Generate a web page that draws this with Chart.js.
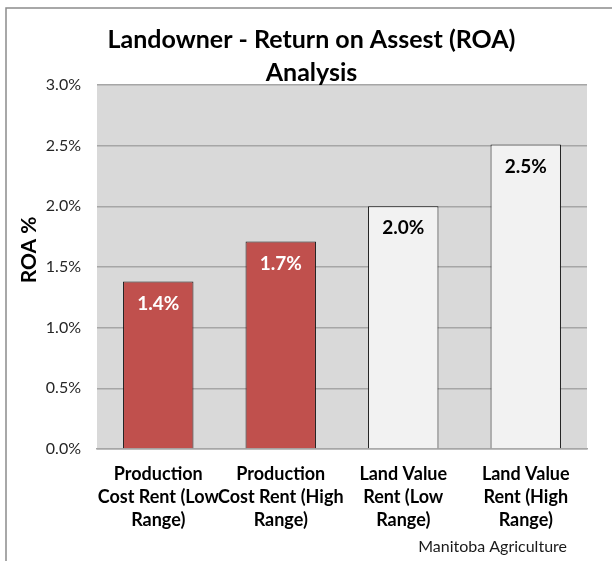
<!DOCTYPE html>
<html><head><meta charset="utf-8">
<script src="https://cdn.jsdelivr.net/npm/chart.js@4/dist/chart.umd.min.js"></script>
<style>html,body{margin:0;padding:0;background:#fff;} #wrap{position:relative;width:612px;height:561px;}</style>
</head><body><div id="wrap"><canvas id="c" width="612" height="561"></canvas></div>
<script>
const categories = [
  ["Production", "Cost Rent (Low", "Range)"],
  ["Production", "Cost Rent (High", "Range)"],
  ["Land Value", "Rent (Low", "Range)"],
  ["Land Value", "Rent (High", "Range)"]
];
const roaValues = [1.38, 1.71, 2.0, 2.51];
const barColors = ["#c0504d", "#c0504d", "#f2f2f2", "#f2f2f2"];
const labelColors = ["#ffffff", "#ffffff", "#000000", "#000000"];
const yMin = 0, yMax = 3, yStep = 0.5;
const chartTitle = ["Landowner - Return on Assest (ROA)", "Analysis"];
const yAxisTitle = "ROA %";
const sourceNote = "Manitoba Agriculture";

const FONT = "Lato";

const framePlugin = {
  id: 'frame',
  beforeDraw(chart) {
    const ctx = chart.ctx, a = chart.chartArea;
    ctx.save();
    ctx.fillStyle = '#ffffff';
    ctx.fillRect(0, 0, chart.width, chart.height);
    ctx.strokeStyle = '#8c8c8c';
    ctx.lineWidth = 1.5;
    ctx.beginPath();
    ctx.moveTo(6, chart.height);
    ctx.lineTo(6, 8);
    ctx.lineTo(chart.width, 8);
    ctx.stroke();
    ctx.fillStyle = '#d9d9d9';
    ctx.fillRect(a.left, a.top, a.right - a.left, a.bottom - a.top);
    ctx.restore();
  },
  afterDraw(chart) {
    const ctx = chart.ctx;
    ctx.save();
    ctx.translate(29, 250);
    ctx.rotate(-Math.PI / 2);
    ctx.font = "bold 21px " + FONT;
    ctx.fillStyle = '#000';
    ctx.textAlign = 'center';
    ctx.textBaseline = 'middle';
    ctx.fillText(yAxisTitle, 0, 0);
    ctx.restore();
    ctx.save();
    ctx.font = "16px " + FONT;
    ctx.fillStyle = '#1a1a1a';
    ctx.textAlign = 'right';
    ctx.textBaseline = 'middle';
    ctx.fillText(sourceNote, 567, 547);
    ctx.restore();
  }
};

const valueLabelPlugin = {
  id: 'valueLabels',
  afterDatasetsDraw(chart) {
    const ctx = chart.ctx;
    const meta = chart.getDatasetMeta(0);
    ctx.save();
    ctx.font = "bold 19px " + FONT;
    ctx.textAlign = 'center';
    ctx.textBaseline = 'middle';
    meta.data.forEach((bar, i) => {
      ctx.fillStyle = labelColors[i];
      ctx.fillText(roaValues[i].toFixed(1) + '%', bar.x, bar.y + 22);
    });
    ctx.restore();
  }
};

new Chart(document.getElementById('c'), {
  type: 'bar',
  data: {
    labels: categories,
    datasets: [{
      data: roaValues,
      backgroundColor: barColors,
      borderColor: '#1a1a1a',
      borderWidth: 1,
      borderSkipped: 'start',
      barPercentage: 0.575,
      categoryPercentage: 1
    }]
  },
  options: {
    responsive: false,
    animation: false,
    devicePixelRatio: 1,
    layout: { padding: { left: 36, right: 25, top: 0, bottom: 0 } },
    plugins: {
      legend: { display: false },
      tooltip: { enabled: false },
      title: {
        display: true,
        text: chartTitle,
        color: '#000',
        font: { family: FONT, size: 25, weight: 'bold', lineHeight: 1.32 },
        padding: { top: 23.5, bottom: -4.5 }
      }
    },
    scales: {
      x: {
        z: 1,
        grid: { display: false },
        border: { display: true, color: '#a6a6a6', width: 1.5 },
        ticks: {
          color: '#000',
          font: { family: FONT, size: 18, weight: 'bold', lineHeight: 1.3 },
          padding: 5,
          maxRotation: 0,
          autoSkip: false
        },
        afterFit(scale) { scale.height = 112; }
      },
      y: {
        min: yMin, max: yMax,
        grid: { color: '#a6a6a6', lineWidth: 1.5, drawTicks: false },
        border: { display: false },
        ticks: {
          stepSize: yStep,
          color: '#262626',
          font: { family: FONT, size: 16 },
          padding: 16,
          callback: v => v.toFixed(1) + '%'
        },
        afterFit(scale) { scale.width = 61; }
      }
    }
  },
  plugins: [framePlugin, valueLabelPlugin]
});
</script>
</body></html>
